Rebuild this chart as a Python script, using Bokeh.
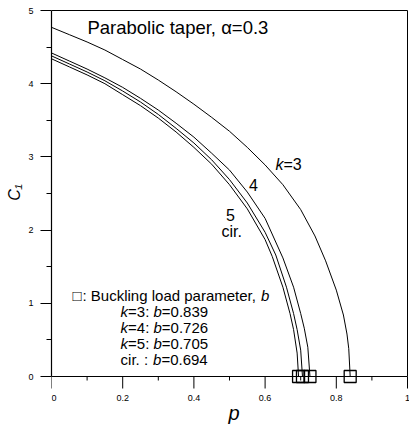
import math
from bokeh.plotting import figure
from bokeh.models import Label, FixedTicker, Range1d, Title
from bokeh.embed import file_html
from bokeh.resources import INLINE

# ---- data ----
p_k3 = [0, 0.05, 0.1, 0.15, 0.2, 0.25, 0.3, 0.35, 0.4, 0.45, 0.5, 0.55, 0.6, 0.65, 0.7, 0.74, 0.77, 0.8, 0.82, 0.83, 0.835, 0.839]
c_k3 = [4.77, 4.67, 4.57, 4.46, 4.33, 4.20, 4.05, 3.89, 3.72, 3.54, 3.35, 3.13, 2.89, 2.62, 2.28, 1.92, 1.58, 1.18, 0.84, 0.58, 0.38, 0]

p_k4 = [0, 0.05, 0.1, 0.15, 0.2, 0.25, 0.3, 0.35, 0.4, 0.45, 0.5, 0.55, 0.6, 0.65, 0.68, 0.7, 0.71, 0.72, 0.726]
c_k4 = [4.42, 4.31, 4.20, 4.08, 3.95, 3.80, 3.64, 3.46, 3.27, 3.05, 2.82, 2.52, 2.16, 1.62, 1.22, 0.86, 0.66, 0.40, 0]

p_k5 = [0, 0.05, 0.1, 0.15, 0.2, 0.25, 0.3, 0.35, 0.4, 0.45, 0.5, 0.55, 0.6, 0.63, 0.66, 0.68, 0.69, 0.70, 0.705]
c_k5 = [4.38, 4.27, 4.16, 4.04, 3.90, 3.75, 3.58, 3.39, 3.19, 2.96, 2.69, 2.37, 1.97, 1.66, 1.22, 0.86, 0.64, 0.36, 0]

p_cir = [0, 0.05, 0.1, 0.15, 0.2, 0.25, 0.3, 0.35, 0.4, 0.45, 0.5, 0.55, 0.6, 0.62, 0.65, 0.67, 0.68, 0.69, 0.694]
c_cir = [4.34, 4.23, 4.12, 4.00, 3.85, 3.70, 3.53, 3.34, 3.13, 2.90, 2.62, 2.29, 1.87, 1.64, 1.22, 0.86, 0.64, 0.32, 0]

b_names = ["k=3", "k=4", "k=5", "cir."]
b_values = [0.839, 0.726, 0.705, 0.694]
b_zero = [0, 0, 0, 0]

x_ticks = [0, 0.2, 0.4, 0.6, 0.8, 1]
x_tick_labels = ["0", "0.2", "0.4", "0.6", "0.8", "1"]
x_minor = [0.1, 0.3, 0.5, 0.7, 0.9]
y_ticks = [0, 1, 2, 3, 4, 5]
y_minor = [0.5, 1.5, 2.5, 3.5, 4.5]

X_MIN, X_MAX = 0.0, 1.0
Y_MIN, Y_MAX = 0.0, 5.0

FONT = "Liberation Sans"
# Arial / Liberation Sans advance widths (per 1000 em)
W = {'k': 500, '=': 584, ':': 278, ' ': 278, 'b': 556, '.': 278, 'c': 500, 'i': 222, 'r': 333,
     'B': 667, 'u': 556, 'l': 222, 'n': 556, 'g': 556, 'o': 556, 'a': 556, 'd': 556, 'p': 556,
     'm': 833, 'e': 556, 't': 278, ',': 278}
for d in "0123456789":
    W[d] = 556


def tw(s, size):
    return sum(W.get(ch, 556) for ch in s) * size / 1000.0


# layout (pixels)
FIG_W, FIG_H = 409, 427
BORDER_L, BORDER_T = 51, 9
PLOT_W_PX, PLOT_H_PX = 356, 366          # size of the 0..1 x 0..5 box
FRAME_W = FIG_W - BORDER_L
FRAME_H = FIG_H - BORDER_T
sx = PLOT_W_PX / (X_MAX - X_MIN)          # px per x unit
sy = PLOT_H_PX / (Y_MAX - Y_MIN)          # px per y unit
x_end = X_MIN + FRAME_W / sx
y_end = Y_MAX + 1 / sy
y_start = y_end - FRAME_H / sy

p = figure(width=FIG_W, height=FIG_H, output_backend="svg", toolbar_location=None,
           x_range=Range1d(X_MIN, x_end), y_range=Range1d(y_start, y_end),
           min_border_left=BORDER_L, min_border_right=0, min_border_top=BORDER_T,
           min_border_bottom=0, x_axis_location=None)
p.background_fill_color = "white"
p.border_fill_color = "white"
p.outline_line_color = None
p.xgrid.visible = False
p.ygrid.visible = False

# y axis (real Bokeh axis, limited to 0..5)
ya = p.yaxis[0]
ya.ticker = FixedTicker(ticks=y_ticks, minor_ticks=y_minor)
ya.bounds = (Y_MIN, Y_MAX)
ya.axis_line_color = "black"
ya.axis_line_width = 1.2
ya.major_tick_line_color = "black"
ya.minor_tick_line_color = "black"
ya.major_tick_in = 0
ya.minor_tick_in = 0
ya.major_tick_out = 11
ya.minor_tick_out = 5
ya.major_label_text_font = FONT
ya.major_label_text_font_size = "9px"
ya.major_label_text_color = "black"
ya.major_label_standoff = 7

# y axis title, placed beside the 0..5 part of the axis
ylab = Title(text="C\u2081", align="left", offset=FIG_H - (BORDER_T + (y_end - 2.4) * sy),
             text_font=FONT, text_font_style="italic", text_font_size="16px",
             text_color="black", standoff=6)
p.add_layout(ylab, "left")

# x axis drawn on the data layer so that the squares at y=0 are not cut
p.line([X_MIN, X_MAX], [Y_MIN, Y_MIN], line_color="black", line_width=1.2)
p.line([X_MIN, X_MAX], [Y_MAX, Y_MAX], line_color="black", line_width=1)
p.line([X_MAX, X_MAX], [Y_MIN, Y_MAX], line_color="black", line_width=1)
p.segment(x0=x_ticks, y0=[Y_MIN] * len(x_ticks), x1=x_ticks,
          y1=[Y_MIN - 12 / sy] * len(x_ticks), line_color="black", line_width=1)
p.segment(x0=x_minor, y0=[Y_MIN] * len(x_minor), x1=x_minor,
          y1=[Y_MIN - 4 / sy] * len(x_minor), line_color="black", line_width=1)
aligns = ["left"] + ["center"] * (len(x_ticks) - 1)
p.text(x=x_ticks, y=[Y_MIN - 18 / sy] * len(x_ticks), text=x_tick_labels,
       text_font={"value": FONT}, text_font_size={"value": "9px"}, text_color="black",
       text_align=aligns, text_baseline="top")
p.text(x=[0.513], y=[Y_MIN - 36 / sy], text=["p"],
       text_font={"value": FONT}, text_font_size={"value": "20px"}, text_font_style="italic",
       text_color="black", text_align="center", text_baseline="middle")

for xs, ys in ((p_k3, c_k3), (p_k4, c_k4), (p_k5, c_k5), (p_cir, c_cir)):
    p.line(xs, ys, line_color="black", line_width=1)

p.scatter(b_values, b_zero, marker="square", size=12, fill_color=None,
          line_color="black", line_width=1.3)


def label(x, y, text, size, italic=False, xoff=0, align="left", angle=0):
    p.add_layout(Label(x=x, y=y, text=text, x_offset=xoff, text_font=FONT,
                       text_font_size=f"{size}px", text_color="black",
                       text_font_style="italic" if italic else "normal",
                       text_align=align, text_baseline="middle", angle=angle))


def mixed(x, y, pieces, size, start=0):
    off = start
    for txt, it in pieces:
        label(x, y, txt, size, italic=it, xoff=off)
        off += tw(txt, size)


# title
label(0.101, 4.77, "Parabolic taper, \u03b1=0.3", 18.5)

# curve labels
mixed(0.629, 2.90, [("k", True), ("=3", False)], 16)
label(0.567, 2.61, "4", 16, align="center")
label(0.503, 2.21, "5", 16, align="center")
label(0.506, 1.98, "cir.", 16, align="center")

# legend block
label(0.059, 1.107, "\u25a1", 15)
mixed(0.059, 1.107, [(": Buckling load parameter, ", False), ("b", True)], 15, start=10)
legend_rows_y = [0.888, 0.669, 0.451, 0.232]
for name, bv, yy in zip(b_names, b_values, legend_rows_y):
    if name.startswith("k"):
        pieces = [("k", True), (name[1:] + ": ", False), ("b", True), ("=%.3f" % bv, False)]
    else:
        pieces = [(name + " : ", False), ("b", True), ("=%.3f" % bv, False)]
    mixed(0.194, yy, pieces, 15)

open("out.html", "w").write(file_html(p, INLINE))
